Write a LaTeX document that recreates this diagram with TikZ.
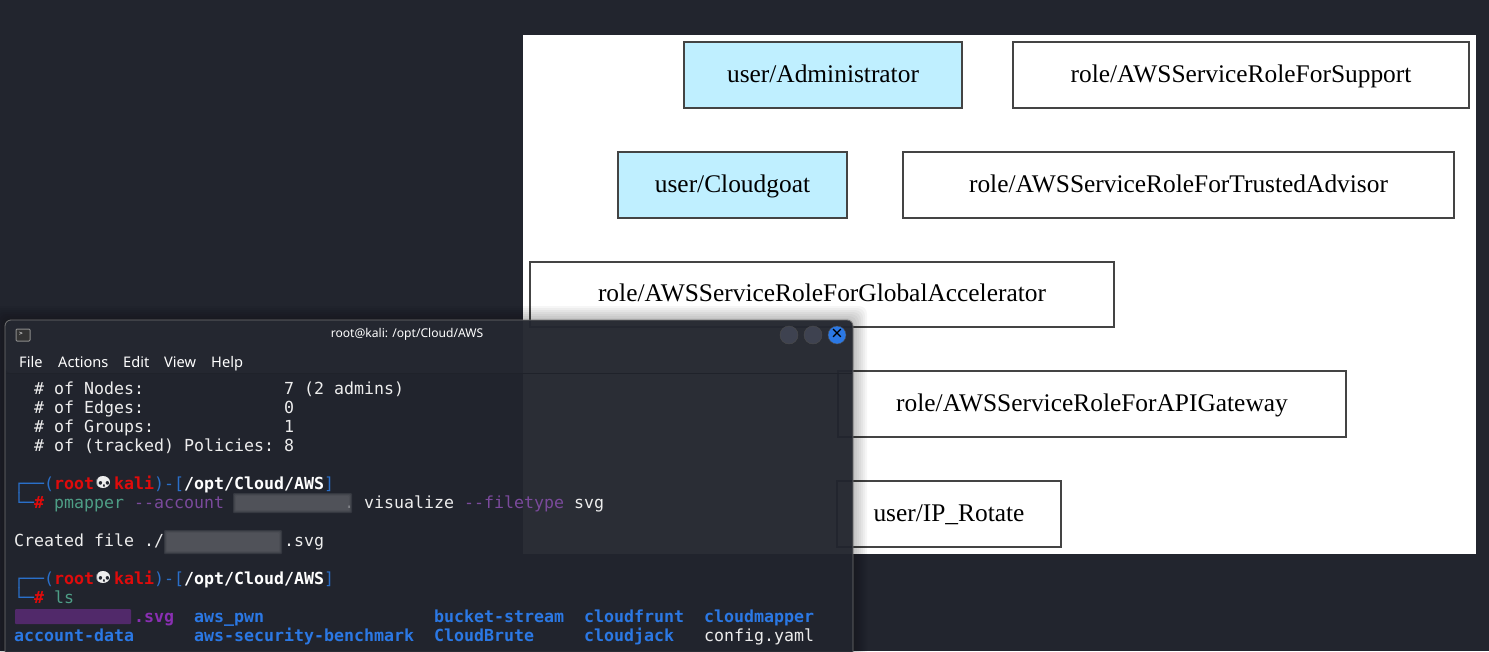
\documentclass[tikz,border=0pt]{standalone}
\usepackage{fontspec}
\setmainfont{Liberation Serif}
\setsansfont{Noto Sans}
\setmonofont{DejaVu Sans Mono}
\newfontfamily\emojifont{Noto Emoji}
\usetikzlibrary{positioning}
\definecolor{deskbg}{HTML}{22252E}
\definecolor{termbody}{HTML}{22252E}
\definecolor{termbar}{HTML}{2B2E37}
\definecolor{admincol}{HTML}{BFEFFF}
\definecolor{boxedge}{HTML}{444444}
\definecolor{termtext}{HTML}{EDEDED}
\definecolor{cmdgreen}{HTML}{4E9E86}
\definecolor{optpurple}{HTML}{7B4A9C}
\definecolor{promptred}{HTML}{E00B0B}
\definecolor{promptblue}{HTML}{2A6FC9}
\definecolor{dirblue}{HTML}{2B78E4}
\definecolor{svgpurple}{HTML}{8A2FB3}
\definecolor{btncol}{HTML}{3E4250}
\definecolor{blurcol}{HTML}{5C5E65}
\newcommand{\kaliprompt}{\textcolor{promptblue}{┌──(}\textbf{\textcolor{promptred}{root}}\makebox[20pt]{\textcolor{termbody}{\emojifont\fontsize{18}{19}\selectfont\char"1F480}}\textbf{\textcolor{promptred}{kali}}\textcolor{promptblue}{)-[}\textbf{\textcolor{white}{/opt/Cloud/AWS}}\textcolor{promptblue}{]}}
\newcommand{\kalihash}{\textcolor{promptblue}{└─}\textbf{\textcolor{promptred}{\#}}}
\tikzset{
  rolebox/.style={draw=boxedge,line width=2.4pt,fill=white,minimum height=66pt,inner sep=0pt,text=black,text height=18pt,text depth=4pt,font=\fontsize{25.4}{29}\selectfont},
  adminbox/.style={rolebox,fill=admincol},
  termline/.style={anchor=base west,inner sep=0pt,text=termtext,font=\fontsize{16.6}{19}\selectfont\ttfamily},
  menuitem/.style={anchor=base west,inner sep=0pt,text=white,font=\fontsize{14.6}{17}\selectfont\sffamily},
  winbutton/.style={circle,draw=black!70,fill=#1,minimum size=18pt,inner sep=0pt},
  blurbox/.style={fill=#1,rounded corners=1pt}
}
\begin{document}
\begin{tikzpicture}[x=1pt,y=-1pt]
\useasboundingbox (0,0) rectangle (1489,651);
\fill[deskbg] (0,0) rectangle (1489,651);
% graph panel
\fill[white] (523,35) rectangle (1476,554);
\node[adminbox,minimum width=278pt] (admin) at (823,75) {user/Administrator};
\node[rolebox,minimum width=456pt] (support) at (1241,75) {role/AWSServiceRoleForSupport};
\node[adminbox,minimum width=229pt] (cloudgoat) at (732.5,185) {user/Cloudgoat};
\node[rolebox,minimum width=551pt] (advisor) at (1178.5,185) {role/AWSServiceRoleForTrustedAdvisor};
\node[rolebox,minimum width=584pt,minimum height=65pt] (accel) at (822,294.5) {role/AWSServiceRoleForGlobalAccelerator};
\node[rolebox,minimum width=508pt] (gateway) at (1092,404) {role/AWSServiceRoleForAPIGateway};
\node[rolebox,minimum width=224pt] (rotate) at (949,514) {user/IP\_Rotate};
% shadow of the window
\foreach \s in {1,...,7}
  \fill[black,opacity=0.035,rounded corners=8pt] (5-2*\s,320-2*\s) rectangle (853+2*\s,660);
% terminal window
\fill[termbody,opacity=0.95,rounded corners=6pt] (5,320) rectangle (853,660);
\fill[termbar,opacity=0.3,rounded corners=6pt] (5,320) rectangle (853,373);
\draw[black!55,line width=0.8pt,rounded corners=6pt] (5,660) -- (5,320) -- (853,320) -- (853,660);
\draw[black!8!termbody,line width=0.6pt] (6,373) -- (852,373);
% title bar
\node[draw=white!55!black,fill=black!80,line width=1pt,minimum width=14pt,minimum height=12pt,inner sep=0pt,rounded corners=1pt] (icon) at (23,335) {};
\node[inner sep=0pt,text=white,font=\fontsize{6}{6}\selectfont\ttfamily] (iconmark) at (21,334) {>};
\node[inner sep=0pt,text=white,font=\fontsize{12.1}{15}\selectfont\sffamily\bfseries] (title) at (407,334.5) {root@kali: /opt/Cloud/AWS};
\node[winbutton=btncol] (btnmin) at (789,335) {};
\node[winbutton=btncol] (btnmax) at (813,335) {};
\node[winbutton=dirblue,font=\fontsize{20}{20}\selectfont\sffamily\bfseries,text=black] (btnclose) at (837,335) {×};
\foreach \n/\tx/\lbl in {file/19/File,actions/58/Actions,edit/123/Edit,view/164/View,help/211/Help}
  \node[menuitem] (\n) at (\tx,367) {\lbl};
% summary lines
\foreach \i/\ty/\lbl/\val in {1/394/Nodes:/7 (2 admins),2/413/Edges:/0,3/432/Groups:/1,4/451/(tracked) Policies:/8} {
  \node[termline] (stat\i) at (34,\ty) {\# of \lbl};
  \node[termline] (val\i) at (284,\ty) {\val};
}
% skulls stand on a light patch
\foreach \ty in {482,577}
  \fill[termtext] (103,\ty) ellipse (7 and 6);
% first command
\node[termline] (prompta) at (14,489) {\kaliprompt};
\node[termline] (hasha) at (14,508) {\kalihash};
\node[termline] (cmda) at (54,508) {\textcolor{cmdgreen}{pmapper} \textcolor{optpurple}{--account}};
\node[termline] (cmdb) at (344,508) {. visualize \textcolor{optpurple}{--filetype} svg};
\foreach \s in {0,1,2,3}
  \fill[blurbox=blurcol,opacity=0.35] (233+\s,493+\s) rectangle (352-\s,513-\s);
\node[termline] (created) at (14,546) {Created file ./};
\foreach \s in {0,1,2,3}
  \fill[blurbox=blurcol,opacity=0.35] (164+\s,530+\s) rectangle (282-\s,554-\s);
\node[termline] (createdb) at (284,546) {.svg};
% second command
\node[termline] (promptb) at (14,584) {\kaliprompt};
\node[termline] (hashb) at (14,603) {\kalihash};
\node[termline] (cmdc) at (54,603) {\textcolor{cmdgreen}{ls}};
\fill[blurbox=svgpurple!45!termbody] (15,609) rectangle (131,624);
\node[termline] (svgname) at (134,622) {\textbf{\textcolor{svgpurple}{.svg}}};
\foreach \n/\tx/\ty/\lbl in {pwn/194/622/aws\_pwn,bucket/434/622/bucket-stream,frunt/584/622/cloudfrunt,mapper/704/622/cloudmapper,data/14/641/account-data,bench/194/641/aws-security-benchmark,brute/434/641/CloudBrute,jack/584/641/cloudjack}
  \node[termline,text=dirblue] (\n) at (\tx,\ty) {\textbf{\lbl}};
\node[termline] (yaml) at (704,641) {config.yaml};
\end{tikzpicture}
\end{document}
